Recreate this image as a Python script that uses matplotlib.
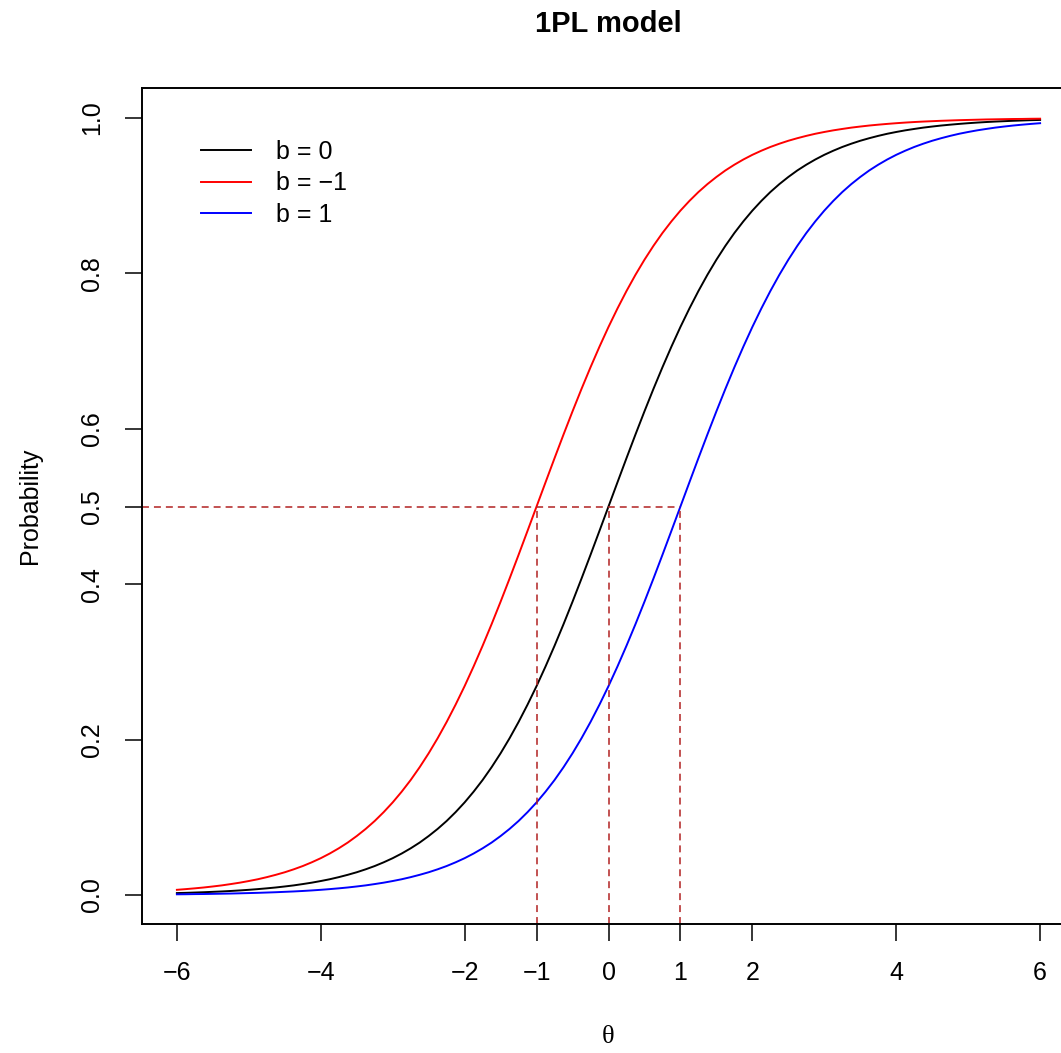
import matplotlib
matplotlib.use("Agg")
import matplotlib.pyplot as plt

# theta grid (step 0.125) and item response probabilities
theta = [-6 + 0.125 * i for i in range(97)]

p_b0 = [0.0025, 0.0028, 0.0032, 0.0036, 0.0041, 0.0046, 0.0052, 0.0059,
        0.0067, 0.0076, 0.0086, 0.0097, 0.0110, 0.0124, 0.0141, 0.0159,
        0.0180, 0.0203, 0.0230, 0.0260, 0.0293, 0.0331, 0.0373, 0.0421,
        0.0474, 0.0534, 0.0601, 0.0675, 0.0759, 0.0851, 0.0953, 0.1067,
        0.1192, 0.1330, 0.1480, 0.1645, 0.1824, 0.2018, 0.2227, 0.2451,
        0.2689, 0.2942, 0.3208, 0.3486, 0.3775, 0.4073, 0.4378, 0.4688,
        0.5000, 0.5312, 0.5622, 0.5927, 0.6225, 0.6514, 0.6792, 0.7058,
        0.7311, 0.7549, 0.7773, 0.7982, 0.8176, 0.8355, 0.8520, 0.8670,
        0.8808, 0.8933, 0.9047, 0.9149, 0.9241, 0.9325, 0.9399, 0.9466,
        0.9526, 0.9579, 0.9627, 0.9669, 0.9707, 0.9740, 0.9770, 0.9797,
        0.9820, 0.9841, 0.9859, 0.9876, 0.9890, 0.9903, 0.9914, 0.9924,
        0.9933, 0.9941, 0.9948, 0.9954, 0.9959, 0.9964, 0.9968, 0.9972,
        0.9975]

p_bm1 = [0.0067, 0.0076, 0.0086, 0.0097, 0.0110, 0.0124, 0.0141, 0.0159,
         0.0180, 0.0203, 0.0230, 0.0260, 0.0293, 0.0331, 0.0373, 0.0421,
         0.0474, 0.0534, 0.0601, 0.0675, 0.0759, 0.0851, 0.0953, 0.1067,
         0.1192, 0.1330, 0.1480, 0.1645, 0.1824, 0.2018, 0.2227, 0.2451,
         0.2689, 0.2942, 0.3208, 0.3486, 0.3775, 0.4073, 0.4378, 0.4688,
         0.5000, 0.5312, 0.5622, 0.5927, 0.6225, 0.6514, 0.6792, 0.7058,
         0.7311, 0.7549, 0.7773, 0.7982, 0.8176, 0.8355, 0.8520, 0.8670,
         0.8808, 0.8933, 0.9047, 0.9149, 0.9241, 0.9325, 0.9399, 0.9466,
         0.9526, 0.9579, 0.9627, 0.9669, 0.9707, 0.9740, 0.9770, 0.9797,
         0.9820, 0.9841, 0.9859, 0.9876, 0.9890, 0.9903, 0.9914, 0.9924,
         0.9933, 0.9941, 0.9948, 0.9954, 0.9959, 0.9964, 0.9968, 0.9972,
         0.9975, 0.9978, 0.9981, 0.9983, 0.9985, 0.9987, 0.9988, 0.9990,
         0.9991]

p_b1 = [0.0009, 0.0010, 0.0012, 0.0013, 0.0015, 0.0017, 0.0019, 0.0022,
        0.0025, 0.0028, 0.0032, 0.0036, 0.0041, 0.0046, 0.0052, 0.0059,
        0.0067, 0.0076, 0.0086, 0.0097, 0.0110, 0.0124, 0.0141, 0.0159,
        0.0180, 0.0203, 0.0230, 0.0260, 0.0293, 0.0331, 0.0373, 0.0421,
        0.0474, 0.0534, 0.0601, 0.0675, 0.0759, 0.0851, 0.0953, 0.1067,
        0.1192, 0.1330, 0.1480, 0.1645, 0.1824, 0.2018, 0.2227, 0.2451,
        0.2689, 0.2942, 0.3208, 0.3486, 0.3775, 0.4073, 0.4378, 0.4688,
        0.5000, 0.5312, 0.5622, 0.5927, 0.6225, 0.6514, 0.6792, 0.7058,
        0.7311, 0.7549, 0.7773, 0.7982, 0.8176, 0.8355, 0.8520, 0.8670,
        0.8808, 0.8933, 0.9047, 0.9149, 0.9241, 0.9325, 0.9399, 0.9466,
        0.9526, 0.9579, 0.9627, 0.9669, 0.9707, 0.9740, 0.9770, 0.9797,
        0.9820, 0.9841, 0.9859, 0.9876, 0.9890, 0.9903, 0.9914, 0.9924,
        0.9933]

difficulties = [-1, 0, 1]
x_ticks = [-6, -4, -2, -1, 0, 1, 2, 4, 6]
y_ticks = [0.0, 0.2, 0.4, 0.5, 0.6, 0.8, 1.0]

plt.rcParams['font.family'] = ['Liberation Sans', 'DejaVu Sans']
plt.rcParams['lines.scale_dashes'] = False

W, H = 1061, 1053
fig = plt.figure(figsize=(W / 100, H / 100), dpi=100)
left, right, top, bottom = 142, 1075, 88, 924
ax = fig.add_axes([left / W, 1 - bottom / H, (right - left) / W, (bottom - top) / H])

ax.plot(theta, p_b0, color='black', lw=1.4, label='b = 0')
ax.plot(theta, p_bm1, color='#ff0000', lw=1.4, label='b = \u22121')
ax.plot(theta, p_b1, color='#0000ff', lw=1.4, label='b = 1')

x0, x1 = -6.485, 6.485
y0, y1 = -0.0373, 1.0386
ax.set_xlim(x0, x1)
ax.set_ylim(y0, y1)

# dashed reference lines at P = 0.5
dash_col = '#b22222'
ax.plot([x0, max(difficulties)], [0.5, 0.5], color=dash_col, lw=1.1,
        dashes=(5, 3.6))
for b in difficulties:
    ax.plot([b, b], [y0, 0.5], color=dash_col, lw=1.1, dashes=(5, 3.6))

ax.set_xticks(x_ticks)
ax.set_xticklabels([str(v).replace('-', '\u2212') for v in x_ticks])
ax.set_yticks(y_ticks)
ax.set_yticklabels(['%.1f' % v for v in y_ticks], rotation=90, va='center')
ax.tick_params(axis='both', direction='out', length=12, width=1.1,
               labelsize=18, pad=15)
for s in ax.spines.values():
    s.set_linewidth(1.4)

fig.text(30 / W, 1 - 506 / H, 'Probability', rotation=90, ha='center',
         va='center', fontsize=18)
fig.text(608 / W, 1 - 1037 / H, '\u03b8', ha='center', va='center',
         fontsize=19, family=['Liberation Serif', 'DejaVu Serif'])
fig.text(608 / W, 1 - 24 / H, '1PL model', ha='center', va='center',
         fontsize=21, fontweight='bold')

ax.legend(loc='upper left', bbox_to_anchor=(0.0525, 0.95), frameon=False,
          fontsize=18, handlelength=2.0, handletextpad=1.0, labelspacing=0.3,
          borderaxespad=0)

fig.savefig('out.png', dpi=100)
